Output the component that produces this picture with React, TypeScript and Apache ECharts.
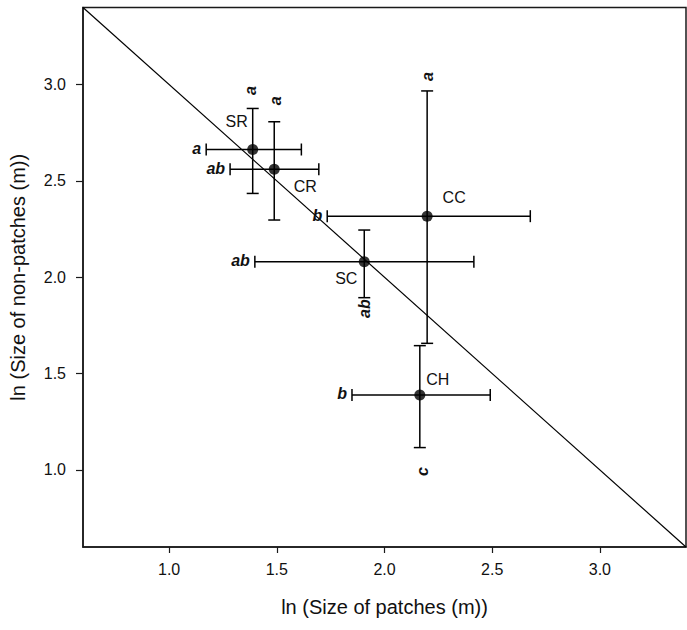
import React, { useEffect, useRef } from "react";
import * as echarts from "echarts";

// Habitat types
const sites = ["SR", "CR", "CC", "SC", "CH"];
// ln (size of patches) mean and error range
const patchMean = [1.388, 1.488, 2.198, 1.906, 2.164];
const patchLow = [1.172, 1.283, 1.734, 1.398, 1.849];
const patchHigh = [1.614, 1.695, 2.677, 2.415, 2.491];
// ln (size of non-patches) mean and error range
const gapMean = [2.663, 2.56, 2.317, 2.081, 1.389];
const gapLow = [2.435, 2.297, 1.657, 1.894, 1.116];
const gapHigh = [2.876, 2.807, 2.967, 2.245, 1.645];
// Significance groups for each axis
const patchGroup = ["a", "ab", "b", "ab", "b"];
const gapGroup = ["a", "a", "a", "ab", "c"];
// Reference line y = 4 - x across the plotted range
const refLine = [
  [0.6, 3.4],
  [3.4, 0.6],
];
const tickValues = [1.0, 1.5, 2.0, 2.5, 3.0];

const FONT = '"Liberation Sans", Arial, Helvetica, sans-serif';
const INK = "#111";

// Pixel offsets for the name labels (relative to the mean point)
const nameOffset: Record<string, [number, number]> = {
  SR: [-16, -28],
  CR: [31, 17],
  CC: [27, -19],
  SC: [-18, 17],
  CH: [18, -15],
};
// Vertical group letters: which end of the vertical bar and offset from it
const gapLetterPlace: Record<string, { end: "top" | "bottom"; dx: number; dy: number }> = {
  SR: { end: "top", dx: -2, dy: -18 },
  CR: { end: "top", dx: 1.5, dy: -21 },
  CC: { end: "top", dx: 0, dy: -14.5 },
  SC: { end: "bottom", dx: 0, dy: 11 },
  CH: { end: "bottom", dx: 2.5, dy: 24 },
};

export default function App() {
  const ref = useRef<HTMLDivElement>(null);

  useEffect(() => {
    if (!ref.current) return;
    const chart = echarts.init(ref.current, undefined, { renderer: "svg" });

    const barData = sites.map((_, i) => [
      patchMean[i],
      gapMean[i],
      patchLow[i],
      patchHigh[i],
      gapLow[i],
      gapHigh[i],
    ]);

    const renderItem = (params: any, api: any) => {
      const i = params.dataIndex;
      const site = sites[i];
      const x = api.value(0);
      const y = api.value(1);
      const c = api.coord([x, y]);
      const xl = api.coord([api.value(2), y]);
      const xh = api.coord([api.value(3), y]);
      const yl = api.coord([x, api.value(4)]);
      const yh = api.coord([x, api.value(5)]);
      const cap = 6;
      const ls = { stroke: "#000", lineWidth: 1.5 };
      const line = (x1: number, y1: number, x2: number, y2: number) => ({
        type: "line",
        shape: { x1, y1, x2, y2 },
        style: ls,
      });
      const place = gapLetterPlace[site];
      const anchor = place.end === "top" ? yh : yl;
      const off = nameOffset[site];
      return {
        type: "group",
        children: [
          line(xl[0], c[1], xh[0], c[1]),
          line(xl[0], c[1] - cap, xl[0], c[1] + cap),
          line(xh[0], c[1] - cap, xh[0], c[1] + cap),
          line(c[0], yl[1], c[0], yh[1]),
          line(c[0] - cap, yl[1], c[0] + cap, yl[1]),
          line(c[0] - cap, yh[1], c[0] + cap, yh[1]),
          {
            type: "text",
            x: xl[0] - 5,
            y: c[1] - 1,
            style: {
              text: patchGroup[i],
              fill: INK,
              fontFamily: FONT,
              fontSize: 16,
              fontWeight: "bold",
              fontStyle: "italic",
              align: "right",
              verticalAlign: "middle",
            },
          },
          {
            type: "text",
            x: anchor[0] + place.dx,
            y: anchor[1] + place.dy,
            rotation: Math.PI / 2,
            style: {
              text: gapGroup[i],
              fill: INK,
              fontFamily: FONT,
              fontSize: 16,
              fontWeight: "bold",
              fontStyle: "italic",
              align: "center",
              verticalAlign: "middle",
            },
          },
          {
            type: "text",
            x: c[0] + off[0],
            y: c[1] + off[1],
            style: {
              text: site,
              fill: INK,
              fontFamily: FONT,
              fontSize: 16,
              align: "center",
              verticalAlign: "middle",
            },
          },
        ],
      };
    };

    const axisCommon = {
      type: "value",
      nameLocation: "middle",
      nameTextStyle: { fontFamily: FONT, fontSize: 20, color: INK },
      axisLine: { show: true, onZero: false, lineStyle: { color: "#1a1a1a", width: 1.5 } },
      splitLine: { show: false },
    };

    chart.setOption({
      animation: false,
      backgroundColor: "#fff",
      grid: {
        left: 80,
        top: 7.5,
        width: 606,
        height: 539.5,
        show: true,
        borderColor: "#1a1a1a",
        borderWidth: 1.5,
      },
      xAxis: {
        ...axisCommon,
        min: 0.6,
        max: 3.4,
        name: "ln (Size of patches (m))",
        nameGap: 50,
        axisTick: {
          show: true,
          length: 6,
          customValues: tickValues,
          lineStyle: { color: "#1a1a1a", width: 1.2 },
        },
        axisLabel: {
          customValues: tickValues,
          formatter: (v: number) => v.toFixed(1),
          margin: 14,
          fontFamily: FONT,
          fontSize: 16,
          color: INK,
        },
      },
      yAxis: {
        ...axisCommon,
        min: 0.6,
        max: 3.4,
        name: "ln (Size of non-patches (m))",
        nameGap: 55,
        axisTick: {
          show: true,
          length: 7,
          customValues: tickValues,
          lineStyle: { color: "#1a1a1a", width: 1.2 },
        },
        axisLabel: {
          customValues: tickValues,
          formatter: (v: number) => v.toFixed(1),
          margin: 17,
          fontFamily: FONT,
          fontSize: 16,
          color: INK,
        },
      },
      series: [
        {
          type: "line",
          data: refLine,
          symbol: "none",
          silent: true,
          lineStyle: { color: "#000", width: 1.2 },
          z: 1,
        },
        {
          type: "custom",
          data: barData,
          renderItem,
          encode: { x: [0, 2, 3], y: [1, 4, 5] },
          silent: true,
          z: 2,
        },
        {
          type: "scatter",
          data: patchMean.map((x, i) => [x, gapMean[i]]),
          symbol: "circle",
          symbolSize: 11,
          itemStyle: { color: "#000" },
          silent: true,
          z: 3,
        },
      ],
    });

    return () => chart.dispose();
  }, []);

  return (
    <div
      ref={ref}
      style={{ position: "absolute", left: 0, top: 0, width: 687, height: 630, background: "#fff" }}
    />
  );
}
